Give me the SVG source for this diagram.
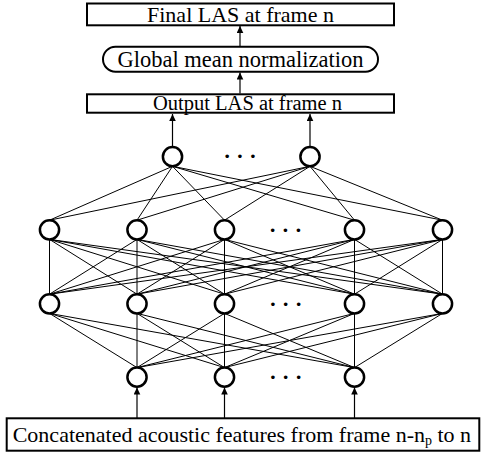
<svg xmlns="http://www.w3.org/2000/svg" width="482" height="455" viewBox="0 0 482 455">
<style>
.box{fill:#fff;stroke:#000;stroke-width:2}
.node{fill:#fff;stroke:#000;stroke-width:2.5}
.lk line{stroke:#000;stroke-width:1}
.ar{stroke:#000;stroke-width:1.2;fill:none}
.t{font-family:"Liberation Serif","Times New Roman",serif;fill:#000}
.dots{font-family:"Liberation Serif",serif;font-size:22px;font-weight:bold;text-anchor:middle;fill:#000}
</style>
<defs>
<marker id="ah" markerUnits="userSpaceOnUse" markerWidth="8" markerHeight="8" refX="7" refY="3.3" orient="auto">
<path d="M0,0 L7,3.3 L0,6.6 z" fill="#000"/>
</marker>
</defs>
<rect width="482" height="455" fill="#fff"/>
<g id="connectors">
<g class="lk">
<line x1="172.5" y1="166.3" x2="49.5" y2="220.2"/>
<line x1="172.5" y1="166.3" x2="137" y2="220.2"/>
<line x1="172.5" y1="166.3" x2="224.5" y2="220.2"/>
<line x1="172.5" y1="166.3" x2="354.5" y2="220.2"/>
<line x1="172.5" y1="166.3" x2="442.5" y2="220.2"/>
<line x1="310" y1="166.3" x2="49.5" y2="220.2"/>
<line x1="310" y1="166.3" x2="137" y2="220.2"/>
<line x1="310" y1="166.3" x2="224.5" y2="220.2"/>
<line x1="310" y1="166.3" x2="354.5" y2="220.2"/>
<line x1="310" y1="166.3" x2="442.5" y2="220.2"/>

<line x1="49.5" y1="239.4" x2="49.5" y2="294.2"/>
<line x1="49.5" y1="239.4" x2="137" y2="294.2"/>
<line x1="49.5" y1="239.4" x2="224.5" y2="294.2"/>
<line x1="49.5" y1="239.4" x2="354.5" y2="294.2"/>
<line x1="49.5" y1="239.4" x2="442.5" y2="294.2"/>
<line x1="137" y1="239.4" x2="49.5" y2="294.2"/>
<line x1="137" y1="239.4" x2="137" y2="294.2"/>
<line x1="137" y1="239.4" x2="224.5" y2="294.2"/>
<line x1="137" y1="239.4" x2="354.5" y2="294.2"/>
<line x1="137" y1="239.4" x2="442.5" y2="294.2"/>
<line x1="224.5" y1="239.4" x2="49.5" y2="294.2"/>
<line x1="224.5" y1="239.4" x2="137" y2="294.2"/>
<line x1="224.5" y1="239.4" x2="224.5" y2="294.2"/>
<line x1="224.5" y1="239.4" x2="354.5" y2="294.2"/>
<line x1="224.5" y1="239.4" x2="442.5" y2="294.2"/>
<line x1="354.5" y1="239.4" x2="49.5" y2="294.2"/>
<line x1="354.5" y1="239.4" x2="137" y2="294.2"/>
<line x1="354.5" y1="239.4" x2="224.5" y2="294.2"/>
<line x1="354.5" y1="239.4" x2="354.5" y2="294.2"/>
<line x1="354.5" y1="239.4" x2="442.5" y2="294.2"/>
<line x1="442.5" y1="239.4" x2="49.5" y2="294.2"/>
<line x1="442.5" y1="239.4" x2="137" y2="294.2"/>
<line x1="442.5" y1="239.4" x2="224.5" y2="294.2"/>
<line x1="442.5" y1="239.4" x2="354.5" y2="294.2"/>
<line x1="442.5" y1="239.4" x2="442.5" y2="294.2"/>

<line x1="49.5" y1="313.4" x2="137" y2="367.6"/>
<line x1="49.5" y1="313.4" x2="224.5" y2="367.6"/>
<line x1="49.5" y1="313.4" x2="354.5" y2="367.6"/>
<line x1="137" y1="313.4" x2="137" y2="367.6"/>
<line x1="137" y1="313.4" x2="224.5" y2="367.6"/>
<line x1="137" y1="313.4" x2="354.5" y2="367.6"/>
<line x1="224.5" y1="313.4" x2="137" y2="367.6"/>
<line x1="224.5" y1="313.4" x2="224.5" y2="367.6"/>
<line x1="224.5" y1="313.4" x2="354.5" y2="367.6"/>
<line x1="354.5" y1="313.4" x2="137" y2="367.6"/>
<line x1="354.5" y1="313.4" x2="224.5" y2="367.6"/>
<line x1="354.5" y1="313.4" x2="354.5" y2="367.6"/>
<line x1="442.5" y1="313.4" x2="137" y2="367.6"/>
<line x1="442.5" y1="313.4" x2="224.5" y2="367.6"/>
<line x1="442.5" y1="313.4" x2="354.5" y2="367.6"/>
</g>
<line class="ar" x1="137" y1="418" x2="137" y2="387.5" marker-end="url(#ah)"/>
<line class="ar" x1="224.5" y1="418" x2="224.5" y2="387.5" marker-end="url(#ah)"/>
<line class="ar" x1="354.5" y1="418" x2="354.5" y2="387.5" marker-end="url(#ah)"/>
<line class="ar" x1="172.5" y1="146.5" x2="172.5" y2="114" marker-end="url(#ah)"/>
<line class="ar" x1="310" y1="146.5" x2="310" y2="114" marker-end="url(#ah)"/>
<line class="ar" x1="240" y1="93.5" x2="240" y2="72.5" marker-end="url(#ah)"/>
<line class="ar" x1="240" y1="46" x2="240" y2="26" marker-end="url(#ah)"/>
</g>
<g id="final">
<rect class="box" x="87" y="3.5" width="307" height="21.8"/>
<text class="t" x="240.5" y="21.7" font-size="22" text-anchor="middle">Final LAS at frame n</text>
</g>
<g id="norm">
<rect class="box" x="103" y="46.7" width="275" height="25" rx="12.5" ry="12.5"/>
<text class="t" x="240.5" y="66.7" font-size="22.5" text-anchor="middle">Global mean normalization</text>
</g>
<g id="output">
<rect class="box" x="87" y="94.3" width="307" height="18.4"/>
<text class="t" x="247.5" y="110" font-size="20.5" text-anchor="middle">Output LAS at frame n</text>
</g>
<g id="top1"><circle class="node" cx="172.5" cy="156.7" r="9.6"/></g>
<g id="top2"><circle class="node" cx="310" cy="156.7" r="9.6"/></g>
<text class="dots" x="240" y="162.5">· · ·</text>
<g id="h1a"><circle class="node" cx="49.5" cy="229.8" r="9.6"/></g>
<g id="h1b"><circle class="node" cx="137" cy="229.8" r="9.6"/></g>
<g id="h1c"><circle class="node" cx="224.5" cy="229.8" r="9.6"/></g>
<g id="h1d"><circle class="node" cx="354.5" cy="229.8" r="9.6"/></g>
<g id="h1e"><circle class="node" cx="442.5" cy="229.8" r="9.6"/></g>
<text class="dots" x="285.5" y="236.5">· · ·</text>
<g id="h2a"><circle class="node" cx="49.5" cy="303.8" r="9.6"/></g>
<g id="h2b"><circle class="node" cx="137" cy="303.8" r="9.6"/></g>
<g id="h2c"><circle class="node" cx="224.5" cy="303.8" r="9.6"/></g>
<g id="h2d"><circle class="node" cx="354.5" cy="303.8" r="9.6"/></g>
<g id="h2e"><circle class="node" cx="442.5" cy="303.8" r="9.6"/></g>
<text class="dots" x="285.8" y="310.8">· · ·</text>
<g id="in1"><circle class="node" cx="137" cy="377.2" r="9.6"/></g>
<g id="in2"><circle class="node" cx="224.5" cy="377.2" r="9.6"/></g>
<g id="in3"><circle class="node" cx="354.5" cy="377.2" r="9.6"/></g>
<text class="dots" x="285.8" y="383.8">· · ·</text>
<g id="inputbox">
<rect class="box" x="6.7" y="418.3" width="472.6" height="32.4"/>
<text class="t" x="12.7" y="441.7" font-size="22">Concatenated acoustic features from frame n-n<tspan font-size="14" dy="3">p</tspan><tspan dy="-3"> to n</tspan></text>
</g>
</svg>
